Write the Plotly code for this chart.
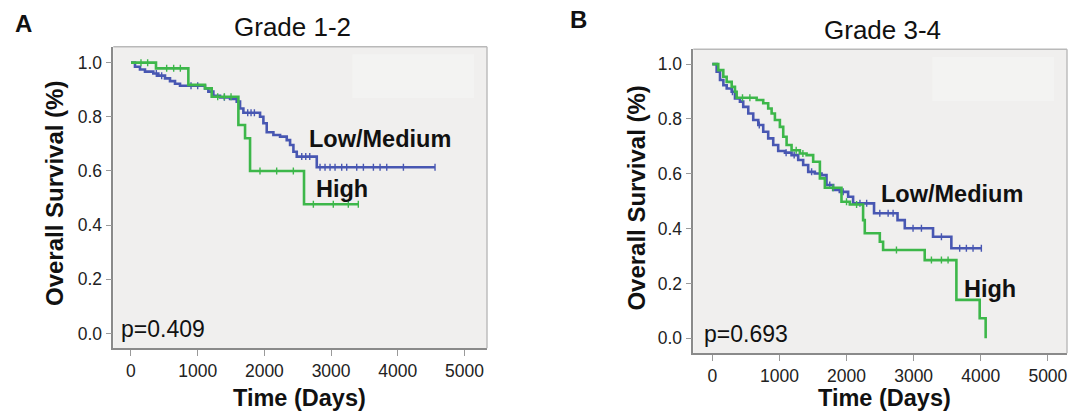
import numpy as np
import plotly.graph_objects as go

W, H = 1072, 412

# ---------------- data ----------------
# Panel A (Grade 1-2)
a_low_t = [0, 60, 135, 210, 335, 410, 510, 585, 660, 735, 1110, 1160, 1235, 1335, 1485, 1585, 1635, 1685,
           1935, 1985, 2035, 2135, 2235, 2335, 2385, 2435, 2485, 2785, 4558]
a_low_s = [1.0, 0.985, 0.975, 0.967, 0.960, 0.952, 0.942, 0.932, 0.922, 0.915, 0.905, 0.893, 0.878, 0.872,
           0.866, 0.856, 0.831, 0.815, 0.800, 0.776, 0.743, 0.733, 0.727, 0.714, 0.696, 0.671, 0.653, 0.614, 0.614]
a_low_cens = [380, 460, 900, 1000, 1400, 1750, 1800, 1850, 2560, 2620, 2680, 2834, 2909, 2984, 3059, 3159,
              3234, 3384, 3484, 3634, 3734, 3834, 4084, 4558]

a_high_t = [0, 375, 860, 1110, 1210, 1610, 1710, 1785, 2594, 3408]
a_high_s = [1.0, 0.979, 0.918, 0.905, 0.874, 0.770, 0.721, 0.600, 0.477, 0.477]
a_high_cens = [150, 250, 535, 640, 740, 1300, 1400, 1500, 1934, 2184, 2434, 2734, 3033, 3258, 3408]

# Panel B (Grade 3-4)
b_low_t = [0, 65, 115, 165, 215, 289, 338, 412, 461, 536, 610, 685, 759, 833, 908, 982, 1082, 1181, 1280,
           1354, 1429, 1528, 1628, 1702, 1801, 1900, 2024, 2098, 2410, 2760, 2868, 3289, 3562, 4009]
b_low_s = [1.0, 0.972, 0.942, 0.923, 0.911, 0.899, 0.875, 0.863, 0.844, 0.820, 0.796, 0.778, 0.753, 0.729,
           0.705, 0.683, 0.677, 0.668, 0.650, 0.632, 0.607, 0.601, 0.595, 0.559, 0.541, 0.534, 0.516, 0.492,
           0.456, 0.431, 0.401, 0.370, 0.328, 0.328]
b_low_cens = [300, 700, 1100, 1220, 1480, 1750, 1950, 2200, 2300, 2496, 2620, 2694, 2991, 3116, 3414,
              3686, 3786, 3885, 4009]

b_high_t = [0, 89, 164, 214, 289, 338, 363, 661, 759, 833, 884, 933, 1007, 1057, 1107, 1181, 1305, 1405,
            1503, 1603, 1677, 1925, 2049, 2247, 2272, 2496, 2545, 3165, 3637, 3984, 4073]
b_high_s = [1.0, 0.978, 0.954, 0.935, 0.917, 0.899, 0.877, 0.869, 0.857, 0.838, 0.820, 0.796, 0.771, 0.735,
            0.705, 0.686, 0.674, 0.668, 0.644, 0.583, 0.549, 0.498, 0.488, 0.431, 0.383, 0.352, 0.322, 0.285,
            0.140, 0.073, 0.0]
b_high_cens = [450, 560, 1250, 1350, 1800, 2000, 2150, 2744, 3265, 3414, 3513]

x_ticks = [0, 1000, 2000, 3000, 4000, 5000]
y_ticks = [0.0, 0.2, 0.4, 0.6, 0.8, 1.0]
titles = ["Grade 1-2", "Grade 3-4"]
p_values = ["p=0.409", "p=0.693"]

# ---------------- style ----------------
BLUE = "#4857B2"
GREEN = "#3DB74A"
BG = "#F0EFEE"
FONT = "Liberation Sans, Arial, sans-serif"


def step_at(ts, ss, t):
    i = np.searchsorted(np.array(ts), np.array(t), side="right") - 1
    return list(np.array(ss)[np.clip(i, 0, len(ss) - 1)])


fig = go.Figure()

panels = [
    dict(xa="x", ya="y", curves=[(a_low_t, a_low_s, a_low_cens, BLUE), (a_high_t, a_high_s, a_high_cens, GREEN)]),
    dict(xa="x2", ya="y2", curves=[(b_low_t, b_low_s, b_low_cens, BLUE), (b_high_t, b_high_s, b_high_cens, GREEN)]),
]

for p in panels:
    for ts, ss, cens, col in p["curves"]:
        fig.add_trace(go.Scatter(x=ts, y=ss, mode="lines", line=dict(color=col, width=2.6, shape="hv"),
                                 xaxis=p["xa"], yaxis=p["ya"], showlegend=False, hoverinfo="skip"))
        fig.add_trace(go.Scatter(x=cens, y=step_at(ts, ss, cens), mode="markers",
                                 marker=dict(symbol="line-ns", size=5, line=dict(color=col, width=1.4)),
                                 xaxis=p["xa"], yaxis=p["ya"], showlegend=False, hoverinfo="skip"))


def px2x(px):
    return px / W


def px2y(py):
    return 1 - py / H


# plot areas in pixels
A = dict(x0=113.3, x1=487, y0=46.7, y1=348.3)
B = dict(x0=693.3, x1=1067, y0=49.3, y1=353.3)

axis_common = dict(showgrid=False, zeroline=False, showline=True, linecolor="#8a8a8a", linewidth=1.6,
                   ticks="outside", ticklen=6, tickwidth=1.2, tickcolor="#9a9a9a",
                   tickfont=dict(family=FONT, size=17.5, color="#222222"))

fig.update_layout(
    width=W, height=H, autosize=False,
    margin=dict(l=0, r=0, t=0, b=0),
    paper_bgcolor="white", plot_bgcolor=BG,
    xaxis=dict(domain=[px2x(A["x0"]), px2x(A["x1"])], range=[-265, 5337], tickvals=x_ticks, anchor="y",
               **axis_common),
    yaxis=dict(domain=[px2y(A["y1"]), px2y(A["y0"])], range=[-0.055, 1.059], tickvals=y_ticks,
               tickformat=".1f", anchor="x", **axis_common),
    xaxis2=dict(domain=[px2x(B["x0"]), px2x(B["x1"])], range=[-283, 5285], tickvals=x_ticks, anchor="y2",
                **axis_common),
    yaxis2=dict(domain=[px2y(B["y1"]), px2y(B["y0"])], range=[-0.055, 1.054], tickvals=y_ticks,
                tickformat=".1f", anchor="x2", **axis_common),
)

shapes = []
for P, xr, yr in [(A, "x domain", "y domain"), (B, "x2 domain", "y2 domain")]:
    # lighter top/right frame
    shapes.append(dict(type="line", xref=xr, yref=yr, x0=0, x1=1, y0=1, y1=1,
                       line=dict(color="#b9b9b9", width=1.4)))
    shapes.append(dict(type="line", xref=xr, yref=yr, x0=1, x1=1, y0=0, y1=1,
                       line=dict(color="#b9b9b9", width=1.4)))
    # faint legend remnant box
    shapes.append(dict(type="rect", xref=xr, yref=yr, x0=0.64, x1=0.965, y0=0.83, y1=0.975,
                       fillcolor="#F3F3F2", line=dict(width=0), layer="below"))
fig.update_layout(shapes=shapes)

ann = []


def text(x, y, s, size, bold=False, angle=0, xanchor="center"):
    ann.append(dict(x=px2x(x), y=px2y(y), xref="paper", yref="paper", text=("<b>%s</b>" % s) if bold else s,
                    showarrow=False, xanchor=xanchor, yanchor="middle", textangle=angle,
                    font=dict(family=FONT, size=size, color="#111111")))


# panel letters
text(23.5, 24, "A", 24, bold=True)
text(578, 20, "B", 24, bold=True)
# titles
text(292.6, 27, titles[0], 26)
text(882.7, 30, titles[1], 26)
# axis titles
text(54.5, 193.5, "Overall Survival (%)", 24, bold=True, angle=-90)
text(637, 198.6, "Overall Survival (%)", 24, bold=True, angle=-90)
text(299.7, 397.5, "Time (Days)", 23.5, bold=True)
text(884, 397.5, "Time (Days)", 23.5, bold=True)
# curve labels
text(380, 139, "Low/Medium", 23.5, bold=True)
text(342.2, 189, "High", 23.5, bold=True)
text(952, 194.5, "Low/Medium", 23.5, bold=True)
text(990.3, 289, "High", 23.5, bold=True)
# p-values
text(119, 329, p_values[0], 23, xanchor="left")
text(702, 334, p_values[1], 23, xanchor="left")

fig.update_layout(annotations=ann)

fig.write_html("out.html", config={"displayModeBar": False},
               post_script="document.body.style.margin='0';document.body.style.overflow='hidden';")
